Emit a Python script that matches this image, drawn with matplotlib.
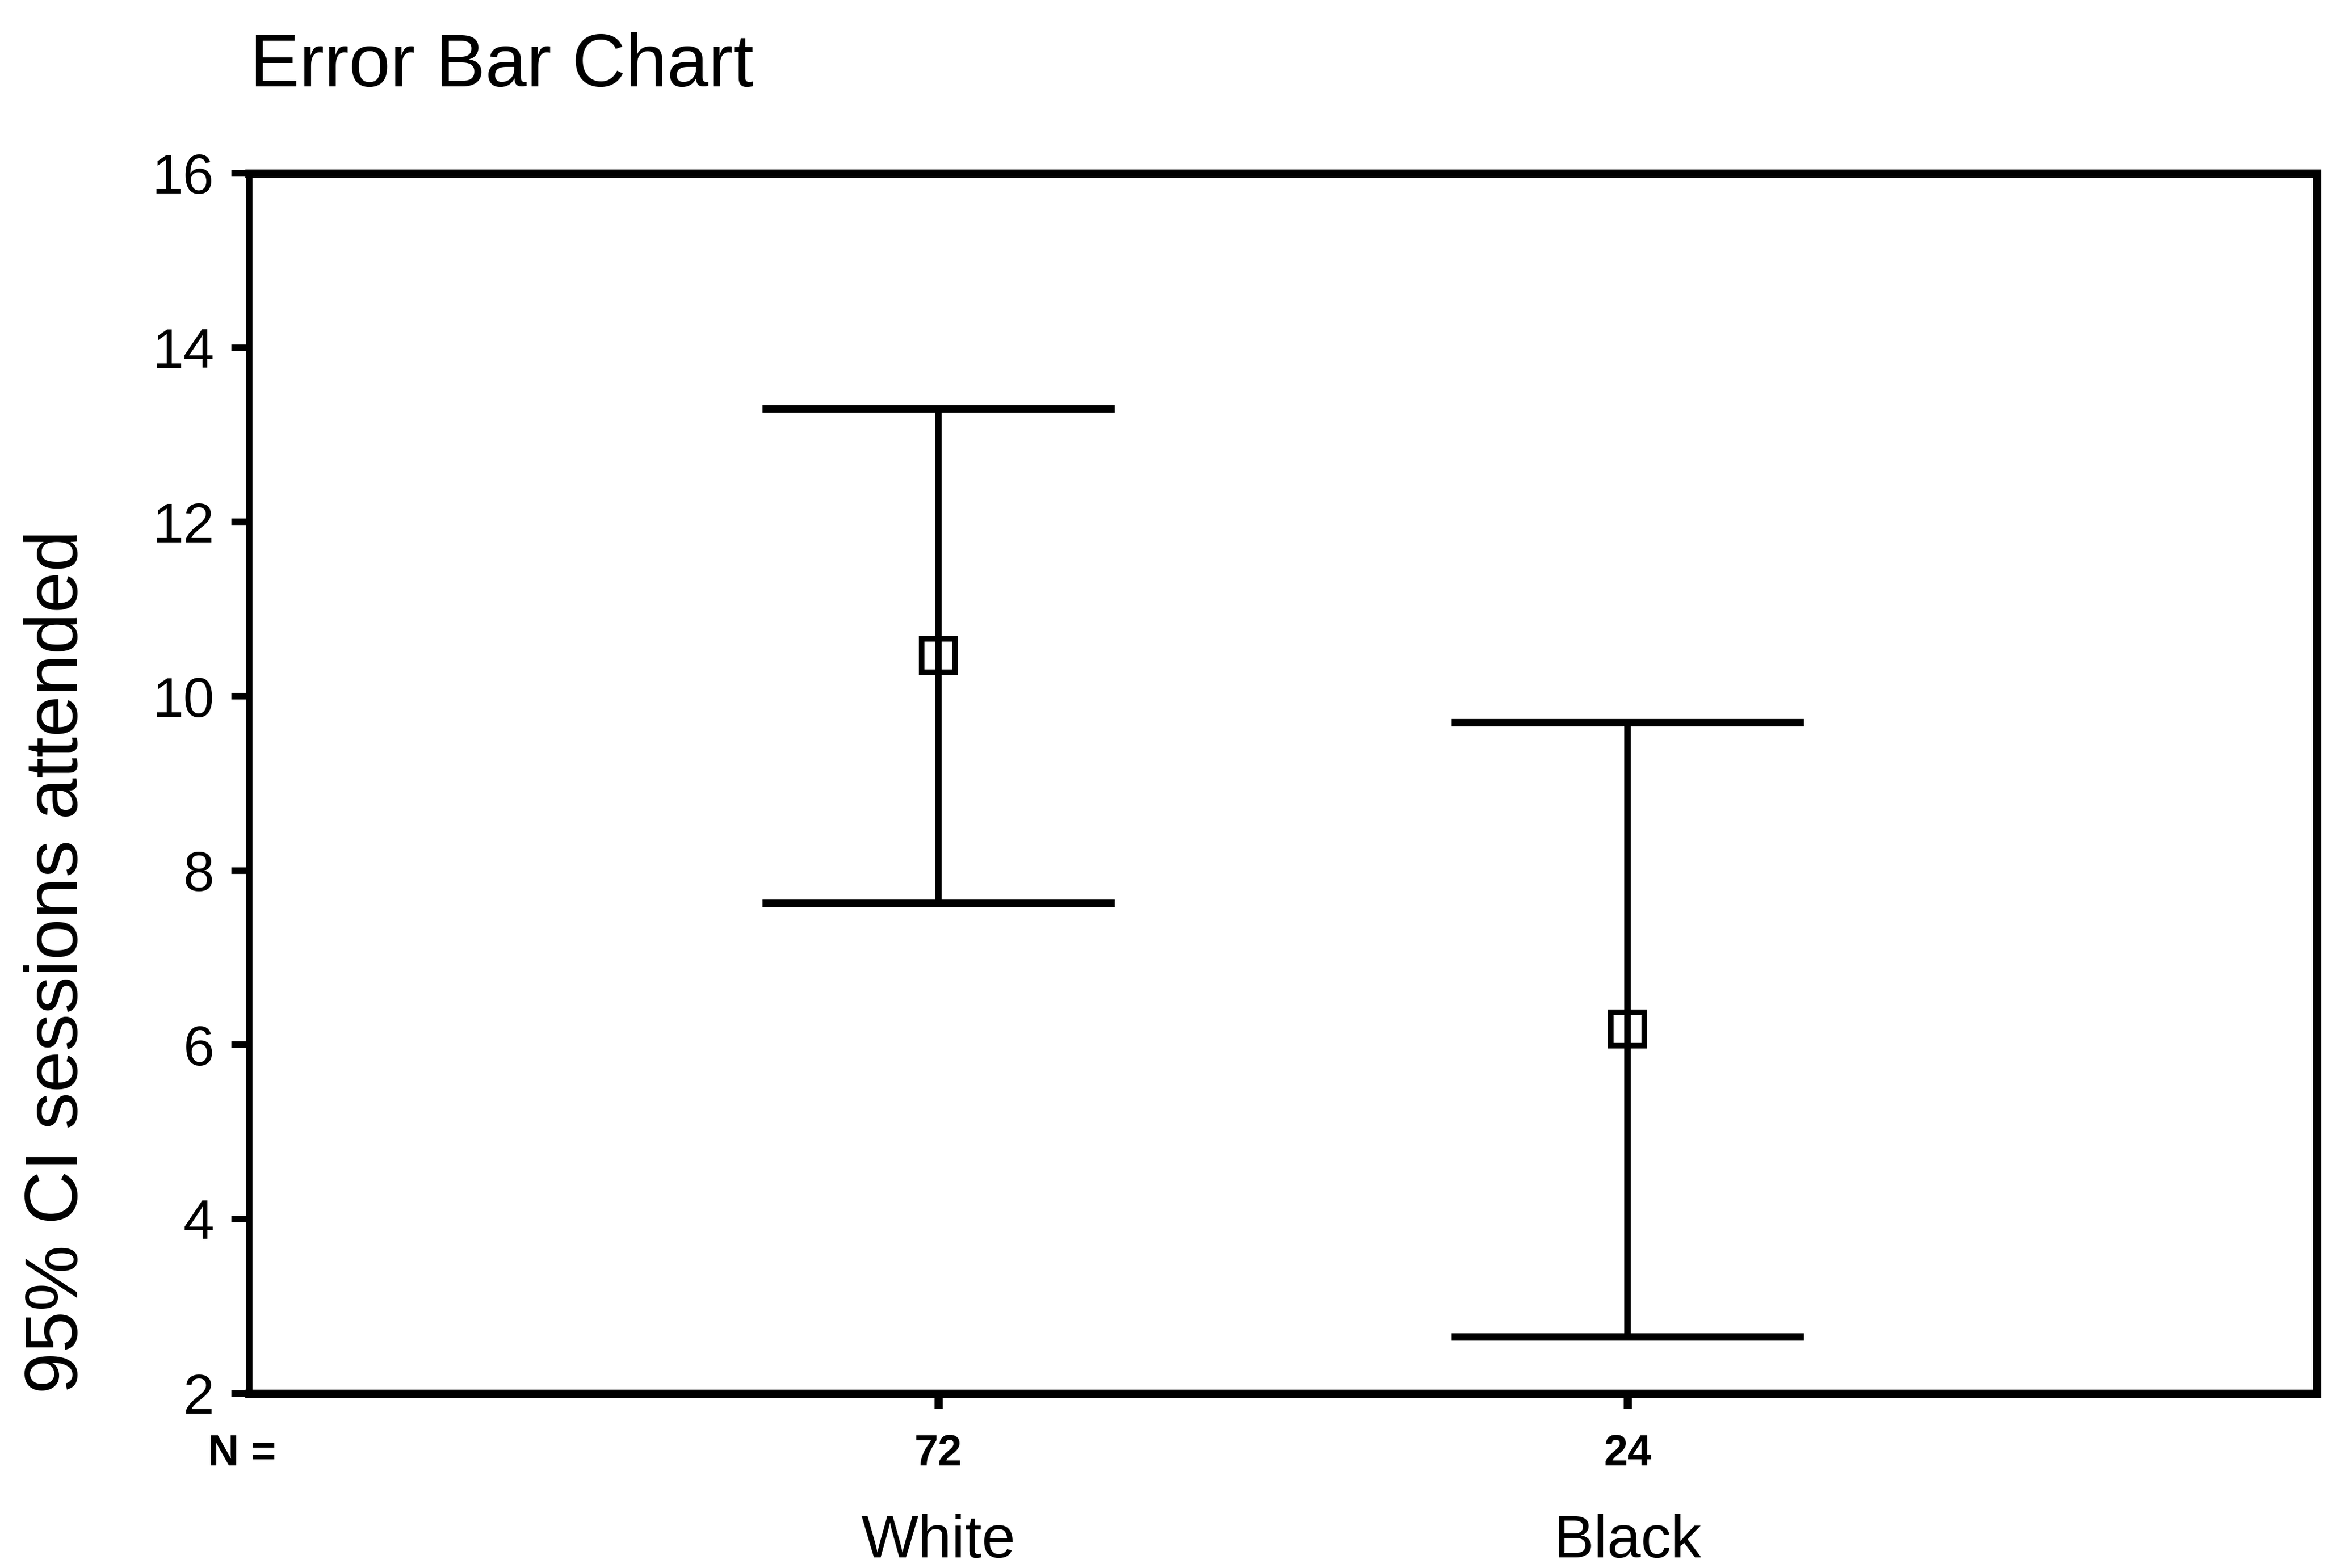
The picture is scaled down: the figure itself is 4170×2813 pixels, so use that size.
import numpy as np
import matplotlib
matplotlib.use("Agg")
import matplotlib.pyplot as plt

# data
groups = ["White", "Black"]
n_cases = ["72", "24"]
means = [10.47, 6.18]
ci_upper = [13.3, 9.7]
ci_lower = [7.63, 2.65]

plt.rcParams['font.family'] = ['Liberation Sans', 'DejaVu Sans']

fig = plt.figure(figsize=(13.9, 9.3767), dpi=300)
ax = fig.add_axes([0.1072, 0.1113, 0.8892, 0.7782])

x = np.arange(1, len(groups) + 1)

# vertical CI lines
ax.vlines(x, ci_lower, ci_upper, color='black', lw=2.8, zorder=2)
# caps, half width in data units
cap = 0.256
ax.hlines(ci_upper, x - cap, x + cap, color='black', lw=3.2, zorder=2)
ax.hlines(ci_lower, x - cap, x + cap, color='black', lw=3.2, zorder=2)
# mean markers
ax.plot(x, means, 's', ms=14.4, mfc='none', mec='black', mew=2.4, zorder=3)

ax.set_xlim(0, 3)
ax.set_ylim(2, 16)
ax.set_yticks(np.arange(2, 17, 2))
ax.set_xticks(x)
ax.set_xticklabels([])
ax.tick_params(axis='y', labelsize=24, length=7.6, width=2.8, pad=7.5)
ax.tick_params(axis='x', length=6.4, width=3.5)

for side in ['top', 'bottom', 'right']:
    ax.spines[side].set_linewidth(3.6)
ax.spines['left'].set_linewidth(2.8)

xt = ax.get_xaxis_transform()
# N counts under the axis
for xi, n in zip(x, n_cases):
    ax.text(xi, -0.059, n, transform=xt, ha='center', va='baseline',
            fontsize=18.5, fontweight='bold')
ax.text(-0.0035, -0.059, "N =", transform=ax.transAxes,
        ha='center', va='baseline', fontsize=18.5, fontweight='bold')

# group names
for xi, g in zip(x, groups):
    ax.text(xi, -0.1345, g, transform=xt, ha='center', va='baseline',
            fontsize=26)

ax.set_ylabel("95% CI sessions attended", fontsize=32, loc='bottom')
ax.yaxis.set_label_coords(-0.0755, 0.0)

fig.text(0.1075, 0.9449, "Error Bar Chart", fontsize=32, ha='left', va='baseline')

fig.savefig("out.png", dpi=300)
